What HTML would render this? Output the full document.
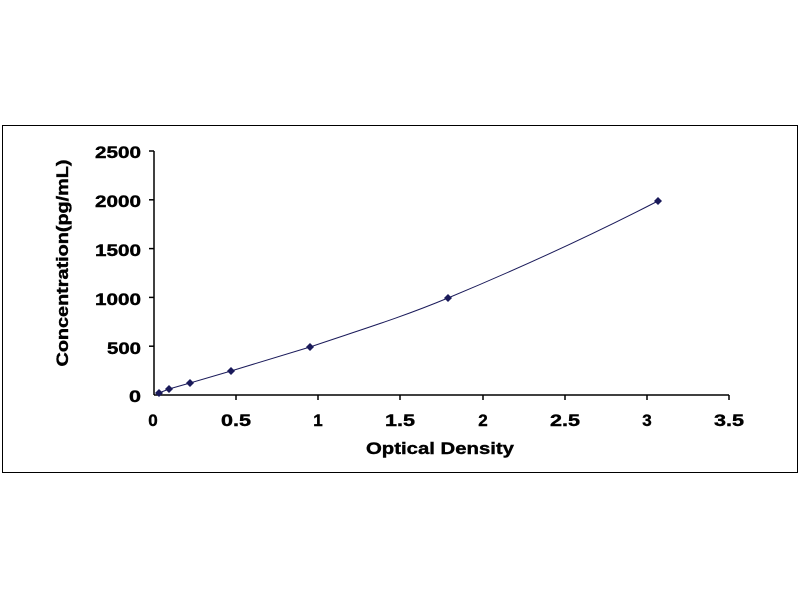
<!DOCTYPE html>
<html><head><style>body{margin:0;background:#fff}svg{display:block}</style></head>
<body>
<svg width="800" height="600" xmlns="http://www.w3.org/2000/svg" font-family="'Liberation Sans',Arial,sans-serif" font-weight="bold">
<rect x="2.5" y="125.5" width="795" height="347" fill="#fff" stroke="#000" stroke-width="1"/>
<g stroke="#000" stroke-width="1.5" fill="none">
<line x1="154" y1="151" x2="154" y2="395"/>
<line x1="154" y1="395" x2="729" y2="395"/>
<line x1="149" y1="151" x2="154" y2="151"/>
<line x1="149" y1="199.8" x2="154" y2="199.8"/>
<line x1="149" y1="248.6" x2="154" y2="248.6"/>
<line x1="149" y1="297.4" x2="154" y2="297.4"/>
<line x1="149" y1="346.2" x2="154" y2="346.2"/>
<line x1="236" y1="395" x2="236" y2="400"/>
<line x1="318" y1="395" x2="318" y2="400"/>
<line x1="400" y1="395" x2="400" y2="400"/>
<line x1="483" y1="395" x2="483" y2="400"/>
<line x1="565" y1="395" x2="565" y2="400"/>
<line x1="647" y1="395" x2="647" y2="400"/>
<line x1="729" y1="395" x2="729" y2="400"/>
</g>
<g font-size="17" text-anchor="end" fill="#000" stroke="#000" stroke-width="0.4">
<text x="141" y="158" textLength="46" lengthAdjust="spacingAndGlyphs">2500</text>
<text x="141" y="207" textLength="46" lengthAdjust="spacingAndGlyphs">2000</text>
<text x="141" y="256" textLength="46" lengthAdjust="spacingAndGlyphs">1500</text>
<text x="141" y="305" textLength="46" lengthAdjust="spacingAndGlyphs">1000</text>
<text x="141" y="354" textLength="34" lengthAdjust="spacingAndGlyphs">500</text>
<text x="141" y="402" textLength="12" lengthAdjust="spacingAndGlyphs">0</text>
</g>
<g font-size="17" text-anchor="middle" fill="#000" stroke="#000" stroke-width="0.4">
<text x="153" y="426">0</text>
<text x="236" y="426" textLength="30" lengthAdjust="spacingAndGlyphs">0.5</text>
<text x="318" y="426">1</text>
<text x="400" y="426" textLength="30" lengthAdjust="spacingAndGlyphs">1.5</text>
<text x="483" y="426">2</text>
<text x="565" y="426" textLength="30" lengthAdjust="spacingAndGlyphs">2.5</text>
<text x="647" y="426">3</text>
<text x="729" y="426" textLength="30" lengthAdjust="spacingAndGlyphs">3.5</text>
<text x="440" y="454" textLength="148" lengthAdjust="spacingAndGlyphs">Optical Density</text>
<text transform="translate(68,263) rotate(-90)" textLength="207" lengthAdjust="spacingAndGlyphs">Concentration(pg/mL)</text>
</g>
<path d="M159,393 L169,389 L190,383 L231,371 L310,347 C360,330 400,318 448,298 C520,268 590,236 658,201" fill="none" stroke="#1a1a5a" stroke-width="1"/>
<g fill="#1a1a5a">
<path d="M159,389 l4,4 l-4,4 l-4,-4z"/>
<path d="M169,385 l4,4 l-4,4 l-4,-4z"/>
<path d="M190,379 l4,4 l-4,4 l-4,-4z"/>
<path d="M231,367 l4,4 l-4,4 l-4,-4z"/>
<path d="M310,343 l4,4 l-4,4 l-4,-4z"/>
<path d="M448,294 l4,4 l-4,4 l-4,-4z"/>
<path d="M658,197 l4,4 l-4,4 l-4,-4z"/>
</g>
</svg>
</body></html>
